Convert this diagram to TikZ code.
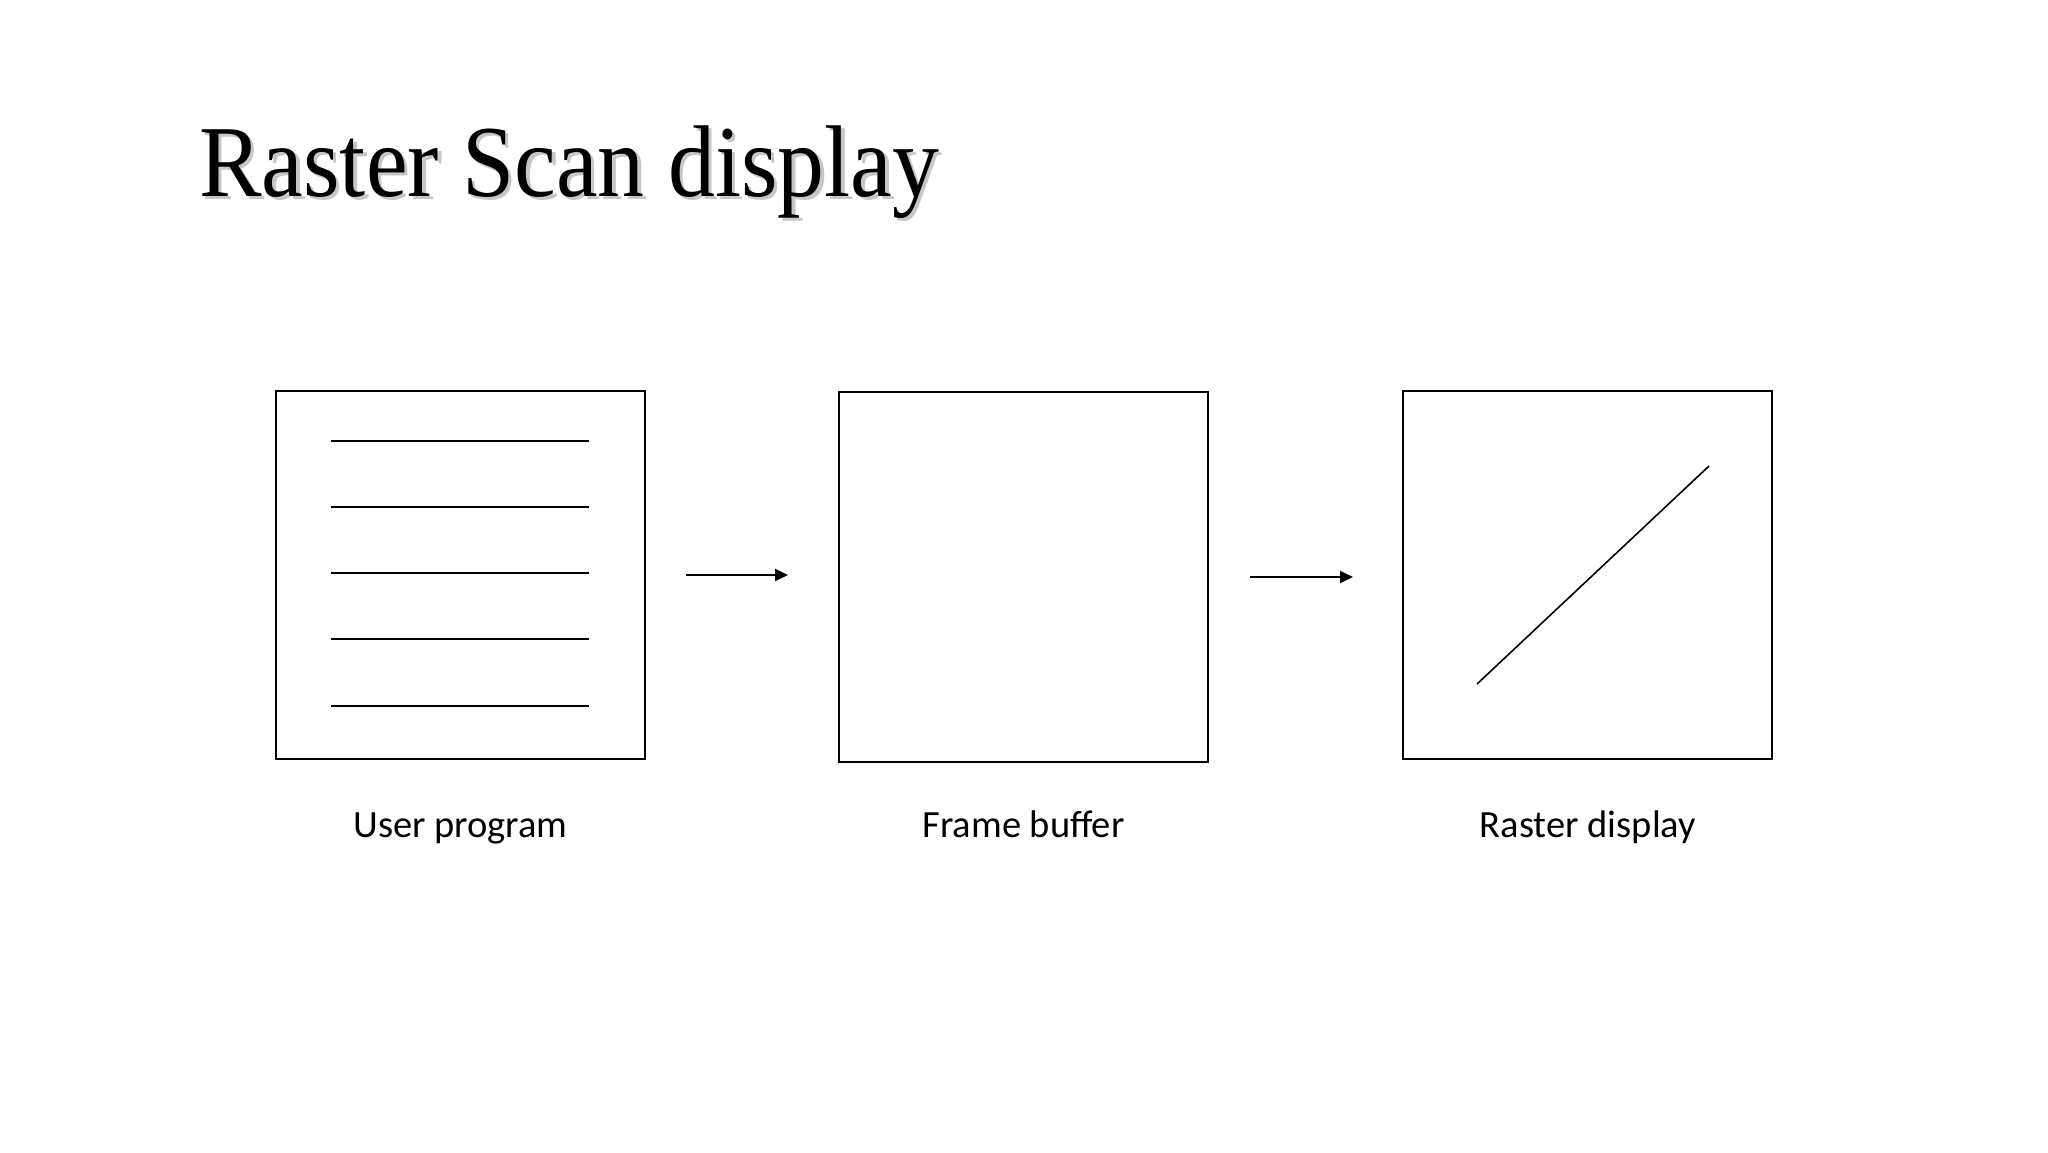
\documentclass[tikz,border=0pt]{standalone}
\usepackage{fontspec}
\setmainfont{Liberation Serif}
\newfontfamily\lblfont{Carlito}
\usetikzlibrary{arrows.meta}
\begin{document}
\begin{tikzpicture}[x=1pt,y=-1pt,
  panel/.style={draw=black,line width=2pt,rectangle,inner sep=0pt,minimum width=369pt,minimum height=368pt},
  rule/.style={line width=2pt},
  flow/.style={line width=2pt,-{Triangle[length=13pt,width=12pt]}},
  caption/.style={font=\lblfont\fontsize{38.5}{46}\selectfont,anchor=base,inner sep=0pt},
  titletext/.style={font=\fontsize{102}{110}\selectfont,anchor=base west,inner sep=0pt,xscale=0.92}]
\fill[white] (0,0) rectangle (2048,1152);
\useasboundingbox (0,0) rectangle (2048,1152);
% title with shadow
\node[titletext,text=black!22] (titleshadow) at (202.5,199.5) {Raster Scan display};
\node[titletext] (title) at (199,196) {Raster Scan display};
% panels
\node[panel] (b1) at (460.5,575) {};
\node[panel,minimum height=370pt] (b2) at (1023.5,577) {};
\node[panel] (b3) at (1587.5,575) {};
% text lines in user program
\foreach \yy in {441,507,573,639,706}{
  \draw[rule] (331,\yy) -- (589,\yy);
}
% diagonal in raster display
\coordinate (d1) at (1477,684);
\coordinate (d2) at (1709,466);
\draw[line width=1.6pt] (d1) -- (d2);
% arrows
\coordinate (a1s) at ([xshift=40pt]b1.east);
\draw[flow] (a1s) -- ([xshift=-50pt]b2.west |- a1s);
\coordinate (a2s) at ([xshift=41pt]b2.east);
\draw[flow] (a2s) -- ([xshift=-49pt]b3.west |- a2s);
% captions
\node[caption] (c1) at (460.5,837) {User program};
\node[caption] (c2) at (1023.5,837) {Frame buffer};
\node[caption] (c3) at (1588,837) {Raster display};
\end{tikzpicture}
\end{document}
